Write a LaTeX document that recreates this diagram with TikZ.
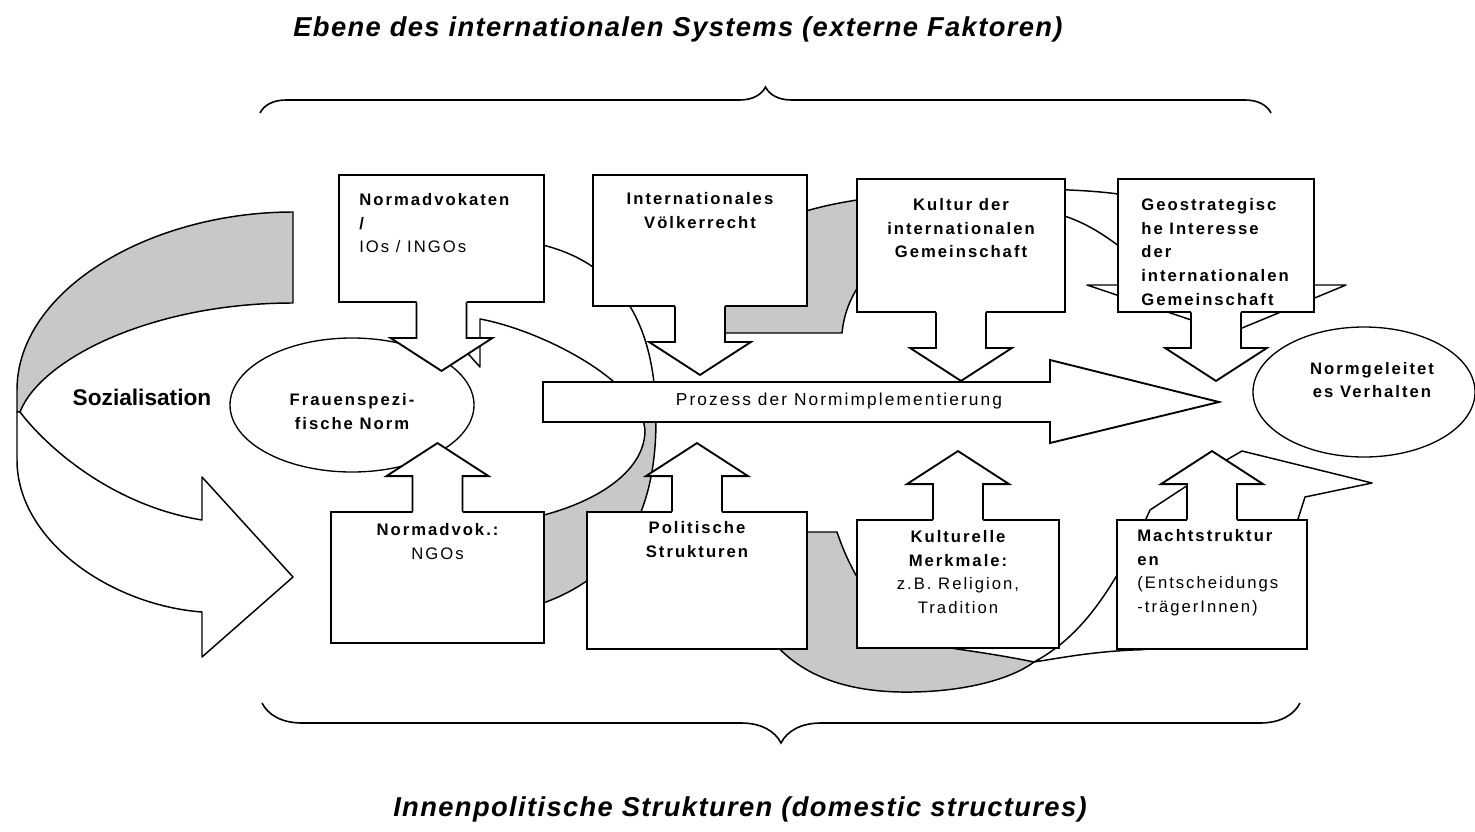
\documentclass[tikz,border=0pt]{standalone}
\usepackage{fontspec}
\setmainfont{Liberation Sans}
\newfontfamily\trackfont[LetterSpace=12]{Liberation Sans}
\newfontfamily\titlefont[LetterSpace=5]{Liberation Sans}
\usetikzlibrary{positioning}
\usetikzlibrary{fit}
\usetikzlibrary{shapes.geometric}
\usetikzlibrary{decorations.pathreplacing}

\definecolor{ringgray}{RGB}{200,200,200}

% ring outlines, coordinates in px (y downwards)
\newcommand\ringAback{(293,212) .. controls (150,212) and (17,290) .. (17,390) -- (17,412) -- (20,412) .. controls (40,360) and (150,303) .. (293,303) -- cycle}
\newcommand\ringAfront{(20,412) .. controls (45,445) and (110,505) .. (202,520) -- (202,477) -- (293,577) -- (202,657) -- (202,612) .. controls (110,605) and (17,540) .. (17,460) -- (17,412) -- cycle}
\newcommand\ringBpath{(480,238) .. controls (600,238) and (656,300) .. (656,420) .. controls (656,540) and (600,595) .. (500,615) -- (440,622) -- (440,535) -- (544,515) .. controls (600,500) and (645,470) .. (645,430) .. controls (640,380) and (540,330) .. (480,319) -- (480,367) -- (400,278) -- (480,189) -- cycle}
\newcommand\ringCtop{(700,333) .. controls (705,250) and (760,215) .. (857,200) .. controls (950,188) and (1060,186) .. (1118,194) .. controls (1200,205) and (1285,240) .. (1290,285) -- (1346,285) -- (1230,333) -- (1087,285) -- (1160,285) .. controls (1130,250) and (1080,212) .. (1040,212) .. controls (950,212) and (850,250) .. (842,333) -- cycle}
\newcommand\ringCback{(740,532) -- (837,532) .. controls (860,600) and (900,640) .. (957,649) .. controls (985,653) and (1010,657) .. (1034,662) .. controls (1010,680) and (960,693) .. (900,692) .. controls (800,690) and (740,640) .. (740,532) -- cycle}
\newcommand\ringCfront{(1034,662) .. controls (1075,640) and (1110,600) .. (1150,510) -- (1223,462) -- (1242,451) -- (1372,483) -- (1305,497) -- (1298,519) .. controls (1250,620) and (1180,650) .. (1133,650) .. controls (1090,652) and (1060,658) .. (1034,662) -- cycle}

% arrow below (1) or above (-1) a box
\newcommand{\calloutarrow}[2]{%
  \begin{scope}[shift={(#1)}, yscale=#2]
    \fill[white] (-25,-3) -- (-25,35) -- (-51,35) -- (0,68) -- (51,35) -- (25,35) -- (25,-3) -- cycle;
    \draw[boxline] (-25,-0.5) -- (-25,35) -- (-51,35) -- (0,68) -- (51,35) -- (25,35) -- (25,-0.5);
  \end{scope}}

\begin{document}
\begin{tikzpicture}[x=0.75pt,y=-0.75pt,
  boxline/.style={line width=1.4pt,line join=miter},
  ringline/.style={line width=1.1pt,line join=round},
  infobox/.style={boxline,draw,fill=white,inner sep=0pt},
  boxtext/.style={font=\trackfont\fontsize{12.5}{17.8}\selectfont\bfseries,inner sep=0pt},
  normnode/.style={ellipse,draw,fill=white,line width=1pt,inner sep=0pt},
  headline/.style={font=\titlefont\fontsize{20.5}{24}\selectfont\bfseries\itshape},
  bracket/.style={decorate,decoration={brace,amplitude=#1},line width=1.2pt}]
\useasboundingbox (0,0) rectangle (1475,832);

% levels
\node[headline] (extern) at (678,29) {Ebene des internationalen Systems (externe Faktoren)};
\draw[bracket=19.5pt] (260,113) -- (1271,113);
\draw[bracket=30pt] (1300,703) -- (262,703);
\node[headline] (domestic) at (740,809) {Innenpolitische Strukturen (domestic structures)};

% Sozialisation
\fill[ringgray] \ringAback;
\draw[ringline] \ringAback;
\filldraw[ringline,fill=white] \ringAfront;
\node[font=\fontsize{17}{20}\selectfont\bfseries] (social) at (142,397) {Sozialisation};

% rings behind the boxes
\fill[white] \ringBpath;
\begin{scope}
  \clip (380,402) rectangle (700,700);
  \fill[ringgray] \ringBpath;
\end{scope}
\draw[ringline] \ringBpath;
\fill[white] \ringCtop;
\begin{scope}
  \clip (600,150) rectangle (960,400);
  \fill[ringgray] \ringCtop;
\end{scope}
\draw[ringline] \ringCtop;
\filldraw[ringline,fill=ringgray] \ringCback;
\filldraw[ringline,fill=white] \ringCfront;

% process
\filldraw[boxline,fill=white] (543,382) -- (1050,382) -- (1050,360) -- (1219,402) -- (1050,443) -- (1050,422) -- (543,422) -- cycle;
\node[font=\trackfont\fontsize{13}{15}\selectfont,inner sep=0pt] (process) at (839,401) {Prozess der Normimplementierung};

% norms
\node[normnode,minimum width=183pt,minimum height=100.5pt] (norm) at (352,405) {};
\node[boxtext,align=center] (normtext) at ([yshift=-5pt]norm.center) {Frauenspezi-\\fische Norm};
\node[normnode,minimum width=166.5pt,minimum height=97.5pt] (behaviour) at (1364,392) {};
\node[boxtext,align=center] (behaviourtext) at ([xshift=6pt,yshift=9pt]behaviour.center) {Normgeleitet\\es Verhalten};

% external factors
\node[infobox,fit={(339,175) (544,302)}] (advocates) {};
\calloutarrow{advocates.south}{1}
\node[boxtext,anchor=north west,align=left] (advocatestext) at ([xshift=15.75pt,yshift=-14.25pt]advocates.north west) {Normadvokaten\\/\\{\mdseries IOs / INGOs}};

\node[infobox,fit={(593,175) (807,306)}] (law) {};
\calloutarrow{law.south}{1}
\node[boxtext,anchor=north,align=center] (lawtext) at ([yshift=-13.5pt]law.north) {Internationales\\V\"olkerrecht};

\node[infobox,fit={(857,179) (1065,312)}] (culture) {};
\calloutarrow{culture.south}{1}
\node[boxtext,anchor=north,align=center] (culturetext) at ([yshift=-15pt]culture.north) {Kultur der\\internationalen\\Gemeinschaft};

\node[infobox,fit={(1118,179) (1314,312)}] (geo) {};
\calloutarrow{geo.south}{1}
\node[boxtext,anchor=north west,align=left] (geotext) at ([xshift=18pt,yshift=-15pt]geo.north west) {Geostrategisc\\he Interesse\\der\\internationalen\\Gemeinschaft};

% domestic structures
\node[infobox,fit={(331,512) (544,643)}] (ngo) {};
\calloutarrow{ngo.north}{-1}
\node[boxtext,anchor=north,align=center] (ngotext) at ([yshift=-9pt]ngo.north) {Normadvok.:\\{\mdseries NGOs}};

\node[infobox,fit={(587,512) (807,649)}] (politics) {};
\calloutarrow{politics.north}{-1}
\node[boxtext,anchor=north,align=center] (politicstext) at ([yshift=-7.5pt]politics.north) {Politische\\Strukturen};

\node[infobox,fit={(857,520) (1059,648)}] (tradition) {};
\calloutarrow{tradition.north}{-1}
\node[boxtext,anchor=north,align=center] (traditiontext) at ([yshift=-8.25pt]tradition.north) {Kulturelle\\Merkmale:\\{\mdseries z.B. Religion,}\\{\mdseries Tradition}};

\node[infobox,fit={(1117,520) (1307,649)}] (power) {};
\calloutarrow{power.north}{-1}
\node[boxtext,anchor=north west,align=left] (powertext) at ([xshift=15.75pt,yshift=-7.5pt]power.north west) {Machtstruktur\\en\\{\mdseries (Entscheidungs}\\{\mdseries -tr\"agerInnen)}};
\end{tikzpicture}
\end{document}
